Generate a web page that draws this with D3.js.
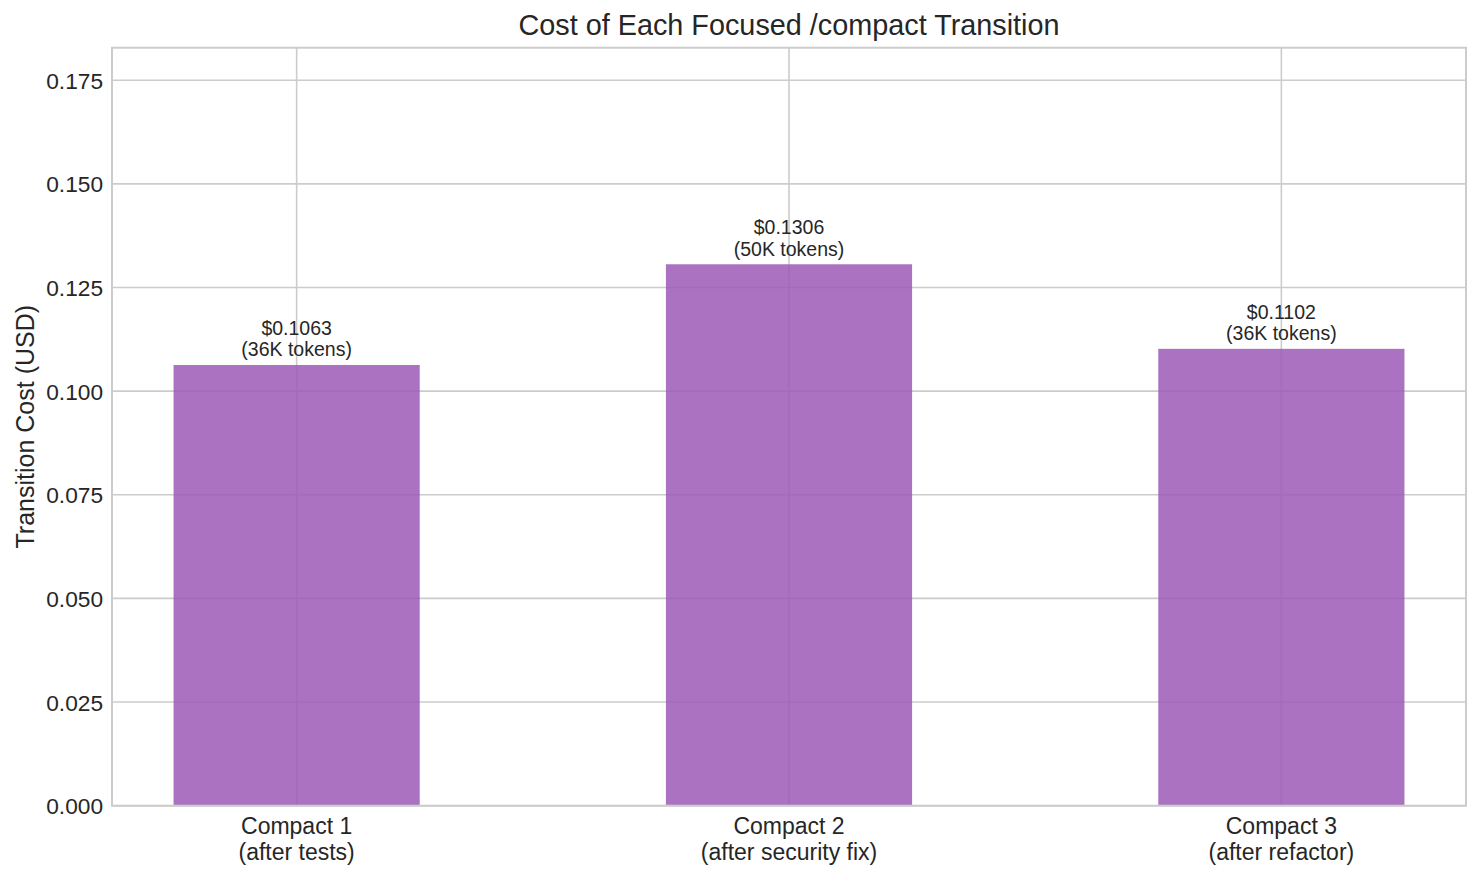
<!DOCTYPE html>
<html>
<head>
<meta charset="utf-8">
<script src="https://cdn.jsdelivr.net/npm/d3@7"></script>
<style>
    body { margin: 0; background: #ffffff; }
    svg { display: block; font-family: "Liberation Sans", Arial, sans-serif; }
</style>
</head>
<body>
<div id="chart"></div>
<script>
const categories = ['Compact 1', 'Compact 2', 'Compact 3'];
const subLabels = ['(after tests)', '(after security fix)', '(after refactor)'];
const costs = [0.1063, 0.1306, 0.1102];
const tokenLabels = ['36K', '50K', '36K'];
const yTicks = [0, 0.025, 0.05, 0.075, 0.1, 0.125, 0.15, 0.175];

const width = 1480;
const height = 880;
const margin = { top: 47.7, right: 14, bottom: 74.3, left: 112 };
const innerW = width - margin.left - margin.right;
const innerH = height - margin.top - margin.bottom;

const gridColor = '#cccccc';
const textColor = '#262626';
const barColor = '#9b59b6';

const svg = d3.select('#chart')
    .append('svg')
    .attr('width', width)
    .attr('height', height);

const g = svg.append('g')
    .attr('transform', `translate(${margin.left},${margin.top})`);

// bars at integer positions, matplotlib style margins
const x = d3.scaleLinear().domain([-0.375, categories.length - 1 + 0.375]).range([0, innerW]);
const y = d3.scaleLinear().domain([0, d3.max(costs) * 1.4]).range([innerH, 0]);
const barW = x(0.5) - x(0);

// grid
g.append('g')
    .selectAll('line.hgrid')
    .data(yTicks)
    .join('line')
    .attr('x1', 0)
    .attr('x2', innerW)
    .attr('y1', d => y(d))
    .attr('y2', d => y(d))
    .style('stroke', gridColor)
    .style('stroke-width', 1.6);

g.append('g')
    .selectAll('line.vgrid')
    .data(categories)
    .join('line')
    .attr('x1', (d, i) => x(i))
    .attr('x2', (d, i) => x(i))
    .attr('y1', 0)
    .attr('y2', innerH)
    .style('stroke', gridColor)
    .style('stroke-width', 1.6);

// bars
g.append('g')
    .selectAll('rect')
    .data(costs)
    .join('rect')
    .attr('x', (d, i) => x(i) - barW / 2)
    .attr('width', barW)
    .attr('y', d => y(d))
    .attr('height', d => innerH - y(d))
    .style('fill', barColor)
    .style('fill-opacity', 0.85);

// value labels
const labels = g.append('g')
    .selectAll('text')
    .data(costs)
    .join('text')
    .attr('text-anchor', 'middle')
    .style('font-size', '19.5px')
    .style('fill', textColor);

labels.append('tspan')
    .attr('x', (d, i) => x(i))
    .attr('y', d => y(d) - 30)
    .text(d => '$' + d3.format('.4f')(d));

labels.append('tspan')
    .attr('x', (d, i) => x(i))
    .attr('y', d => y(d) - 8.5)
    .text((d, i) => `(${tokenLabels[i]} tokens)`);

// axes
const yAxis = d3.axisLeft(y)
    .tickValues(yTicks)
    .tickFormat(d3.format('.3f'))
    .tickSize(0)
    .tickPadding(9);

g.append('g')
    .attr('class', 'y-axis')
    .call(yAxis)
    .call(s => s.select('.domain').remove())
    .selectAll('text')
    .style('font-size', '22.7px')
    .style('font-family', '"Liberation Sans", Arial, sans-serif')
    .style('fill', textColor)
    .attr('dy', '0.35em');

const xTickG = g.append('g')
    .selectAll('text')
    .data(categories)
    .join('text')
    .attr('text-anchor', 'middle')
    .style('font-size', '23px')
    .style('fill', textColor);

xTickG.append('tspan')
    .attr('x', (d, i) => x(i))
    .attr('y', innerH + 28)
    .text(d => d);

xTickG.append('tspan')
    .attr('x', (d, i) => x(i))
    .attr('y', innerH + 54)
    .text((d, i) => subLabels[i]);

// spines
g.append('rect')
    .attr('x', 0)
    .attr('y', 0)
    .attr('width', innerW)
    .attr('height', innerH)
    .style('fill', 'none')
    .style('stroke', gridColor)
    .style('stroke-width', 2);

// y label
g.append('text')
    .attr('transform', 'rotate(-90)')
    .attr('x', -innerH / 2)
    .attr('y', -78)
    .attr('text-anchor', 'middle')
    .style('font-size', '25px')
    .style('fill', textColor)
    .text('Transition Cost (USD)');

// title
svg.append('text')
    .attr('x', margin.left + innerW / 2)
    .attr('y', 35)
    .attr('text-anchor', 'middle')
    .style('font-size', '28.8px')
    .style('fill', textColor)
    .text('Cost of Each Focused /compact Transition');
</script>
</body>
</html>
